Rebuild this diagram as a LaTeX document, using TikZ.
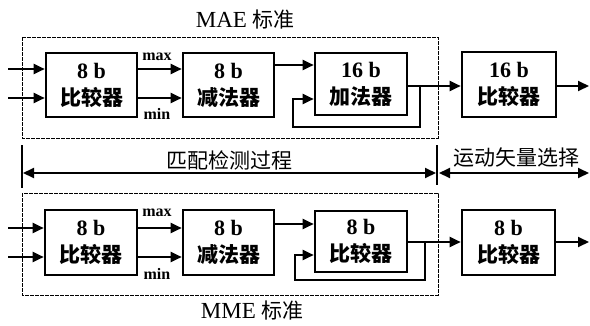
\documentclass[tikz,border=0pt]{standalone}
\usepackage{fontspec}
\setmainfont{Liberation Serif}
\newfontfamily\cjk{Noto Sans CJK SC}
\usetikzlibrary{arrows.meta}
\newcommand\bxt[2]{{\fontsize{22}{27}\selectfont\bfseries #1}\\{\cjk\bfseries #2}}
\tikzset{
  blk/.style={draw, line width=2.6pt, inner sep=0pt, align=center,
    font=\fontsize{21}{27}\selectfont},
  wire/.style={line width=2pt},
  arr/.style={wire, -{Triangle[length=11pt,width=10pt]}},
  darr/.style={wire, {Triangle[length=11pt,width=10pt]}-{Triangle[length=11pt,width=10pt]}},
  dbox/.style={draw, line width=0.8pt, dash pattern=on 4pt off 1pt},
  lbl/.style={font=\bfseries\fontsize{16}{16}\selectfont, inner sep=0pt},
  ttl/.style={font=\fontsize{21}{21}\selectfont, inner sep=0pt},
}
\begin{document}
\begin{tikzpicture}[x=1pt,y=-1pt]
\useasboundingbox (0,0) rectangle (590,325);
% dashed frames
\draw[dbox] (22,37) rectangle (438,138);
\draw[dbox] (22,193) rectangle (438,295);
\node[ttl] (t1) at (245,20) {{\fontsize{23}{23}\selectfont MAE} {\cjk 标准}};
\node[ttl] (t2) at (252,311) {{\fontsize{23}{23}\selectfont MME} {\cjk 标准}};
% top row
\node[blk, minimum width=91pt, minimum height=64pt] (A1) at (91.5,85) {\bxt{8 b}{比较器}};
\node[blk, minimum width=91pt, minimum height=64pt] (A2) at (228.5,85) {\bxt{8 b}{减法器}};
\node[blk, minimum width=92pt, minimum height=62pt] (A3) at (361,84) {\bxt{16 b}{加法器}};
\node[blk, minimum width=94pt, minimum height=65pt] (A4) at (509,84.5) {\bxt{16 b}{比较器}};
\coordinate (ia) at (8,69);
\coordinate (ib) at (8,98);
\draw[arr] (ia) -- (ia -| A1.west);
\draw[arr] (ib) -- (ib -| A1.west);
\draw[arr] (A1.east |- ia) -- (A2.west |- ia);
\draw[arr] (A1.east |- ib) -- (A2.west |- ib);
\node[lbl] (mx1) at (157,57) {max};
\node[lbl] (mn1) at (157,114) {min};
\coordinate (ma) at (0,65);
\draw[arr] (A2.east |- ma) -- (A3.west |- ma);
\coordinate (oa) at (0,86);
\draw[arr] (A3.east |- oa) -- (A4.west |- oa);
\coordinate (fa) at (420,127);
\coordinate (fb) at (293,99);
\draw[arr] (fa |- oa) -- (fa) -| (fb) -- (A3.west |- fb);
\coordinate (outa) at (589,86);
\draw[arr] (A4.east |- outa) -- (outa);
% dimension lines
\coordinate (v1t) at (22,145);
\coordinate (v1b) at (22,188);
\coordinate (v2t) at (437,145);
\coordinate (v2b) at (437,185);
\draw[wire] (v1t) -- (v1b);
\draw[wire] (v2t) -- (v2b);
\coordinate (dl) at (23,173);
\coordinate (dm) at (436,173);
\coordinate (dn) at (439,173);
\coordinate (dr) at (589,173);
\draw[darr] (dl) -- (dm);
\draw[darr] (dn) -- (dr);
\node[ttl] (d1) at (229,160) {\cjk 匹配检测过程};
\node[ttl] (d2) at (516,158) {\cjk 运动矢量选择};
% bottom row
\node[blk, minimum width=92pt, minimum height=65pt] (B1) at (91,242.5) {\bxt{8 b}{比较器}};
\node[blk, minimum width=91pt, minimum height=65pt] (B2) at (228.5,242.5) {\bxt{8 b}{减法器}};
\node[blk, minimum width=92pt, minimum height=61pt] (B3) at (361,241.5) {\bxt{8 b}{比较器}};
\node[blk, minimum width=93pt, minimum height=65pt] (B4) at (508.5,242.5) {\bxt{8 b}{比较器}};
\coordinate (ic) at (8,228);
\coordinate (id) at (8,257);
\draw[arr] (ic) -- (ic -| B1.west);
\draw[arr] (id) -- (id -| B1.west);
\draw[arr] (B1.east |- ic) -- (B2.west |- ic);
\draw[arr] (B1.east |- id) -- (B2.west |- id);
\node[lbl] (mx2) at (157,213) {max};
\node[lbl] (mn2) at (157,274) {min};
\coordinate (mb) at (0,224);
\draw[arr] (B2.east |- mb) -- (B3.west |- mb);
\coordinate (ob) at (0,242);
\draw[arr] (B3.east |- ob) -- (B4.west |- ob);
\coordinate (fc) at (425,280);
\coordinate (fd) at (295,255);
\draw[arr] (fc |- ob) -- (fc) -| (fd) -- (B3.west |- fd);
\coordinate (outb) at (589,242);
\draw[arr] (B4.east |- outb) -- (outb);
\end{tikzpicture}
\end{document}
